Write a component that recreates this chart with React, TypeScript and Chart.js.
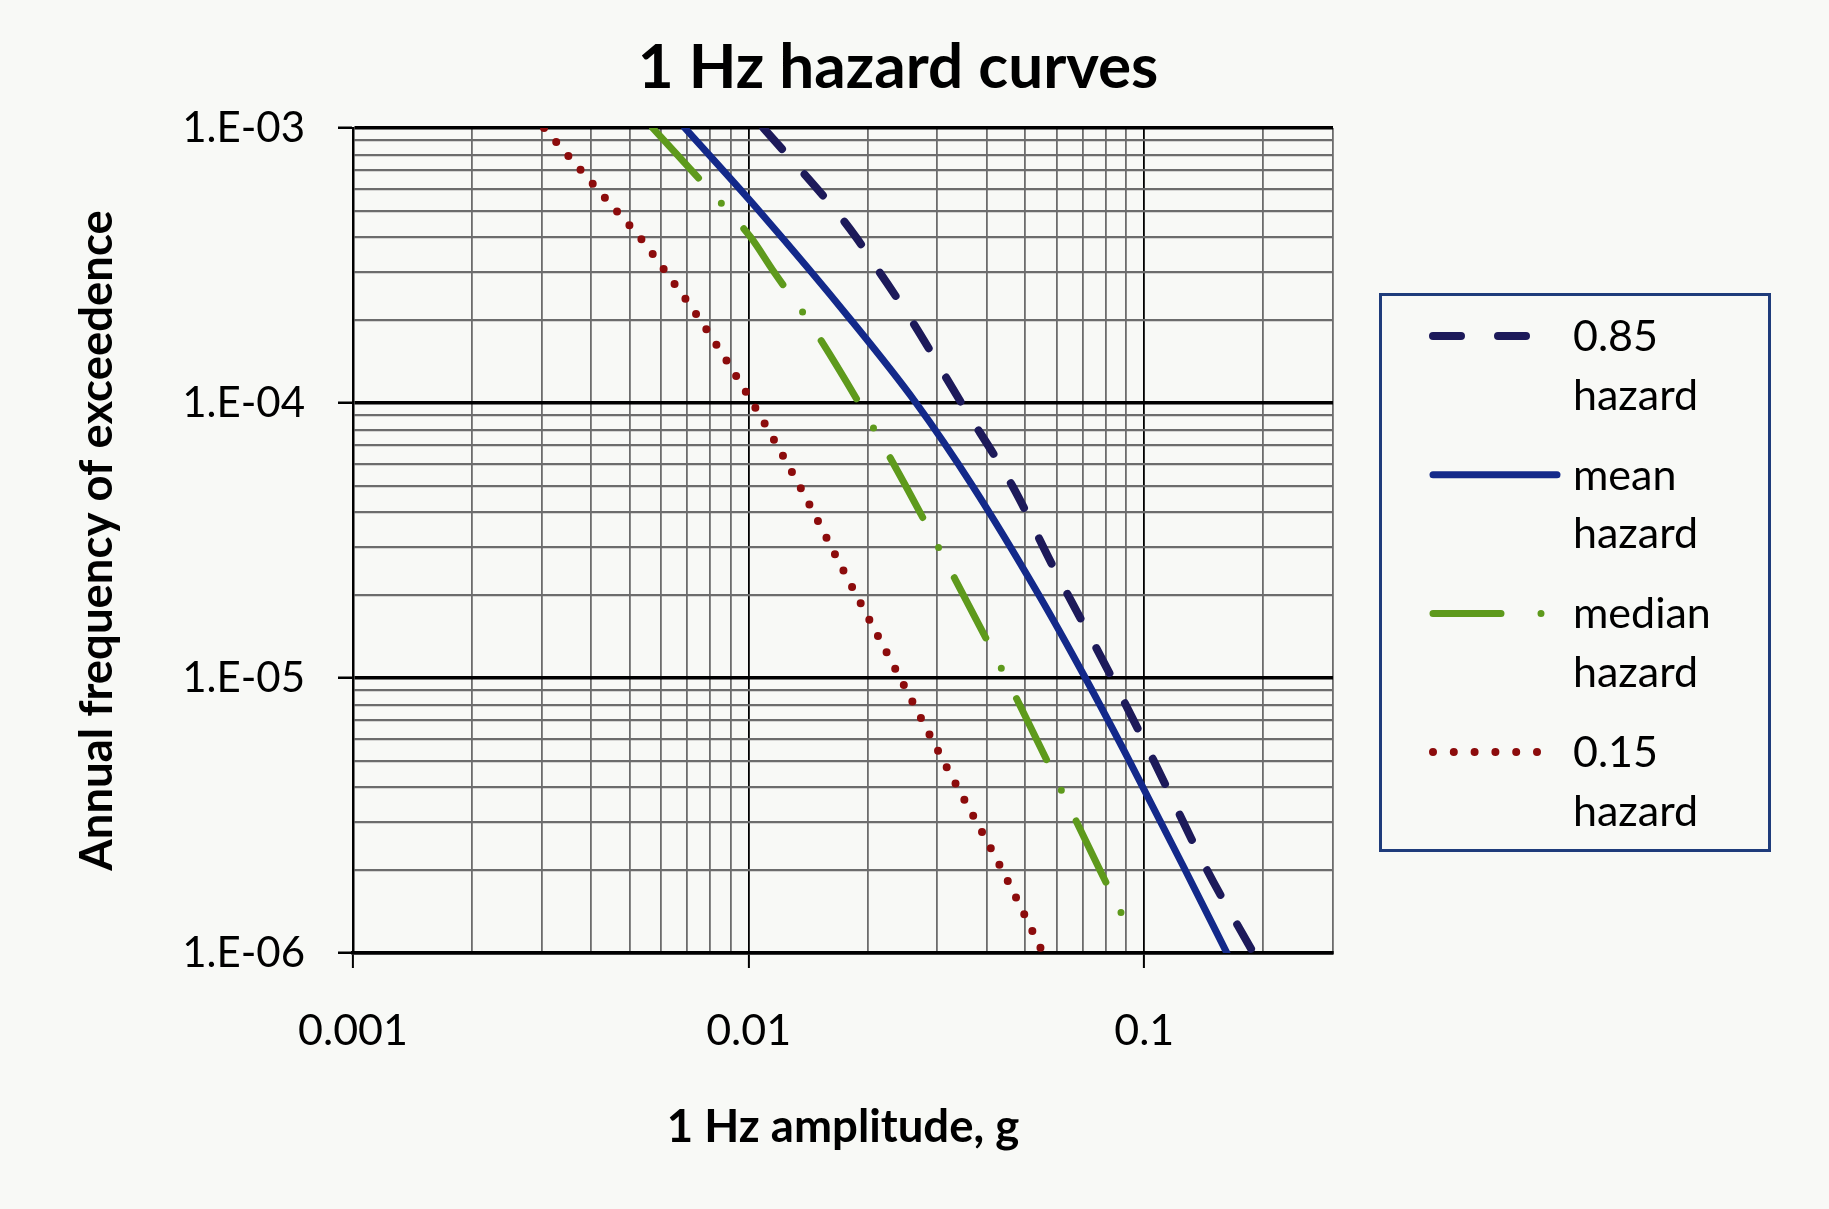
import React, { useEffect, useRef } from 'react';
import { Chart, registerables } from 'chart.js';

Chart.register(...registerables);

// ---------- Text ----------
const CHART_TITLE = '1 Hz hazard curves';
const X_TITLE = '1 Hz amplitude, g';
const Y_TITLE = 'Annual frequency of exceedence';

// ---------- Axis ticks ----------
const X_TICKS = [
  0.001, 0.002, 0.003, 0.004, 0.005, 0.006, 0.007, 0.008, 0.009,
  0.01, 0.02, 0.03, 0.04, 0.05, 0.06, 0.07, 0.08, 0.09,
  0.1, 0.2, 0.3,
];
const X_LABEL_VALUES = [0.001, 0.01, 0.1];
const X_LABEL_TEXT = ['0.001', '0.01', '0.1'];

const Y_TICKS = [
  1e-6, 2e-6, 3e-6, 4e-6, 5e-6, 6e-6, 7e-6, 8e-6, 9e-6,
  1e-5, 2e-5, 3e-5, 4e-5, 5e-5, 6e-5, 7e-5, 8e-5, 9e-5,
  1e-4, 2e-4, 3e-4, 4e-4, 5e-4, 6e-4, 7e-4, 8e-4, 9e-4,
  1e-3,
];
const Y_LABEL_VALUES = [1e-6, 1e-5, 1e-4, 1e-3];
const Y_LABEL_TEXT = ['1.E-06', '1.E-05', '1.E-04', '1.E-03'];

// ---------- Series ----------
const SERIES_LABELS = ['0.85 hazard', 'mean hazard', 'median hazard', '0.15 hazard'];

const P85_X = [0.0109, 0.0166, 0.0187, 0.0214, 0.0258, 0.0345, 0.0464, 0.0592, 0.0829, 0.1057, 0.1442, 0.1888];
const P85_Y = [1e-3, 5e-4, 4e-4, 3e-4, 2e-4, 1e-4, 5e-5, 2.5e-5, 1e-5, 5e-6, 2e-6, 1e-6];

const MEAN_X = [0.0069, 0.01062, 0.01816, 0.0265, 0.0368, 0.0542, 0.071, 0.0917, 0.127, 0.1618];
const MEAN_Y = [1e-3, 5e-4, 2e-4, 1e-4, 5e-5, 2e-5, 1e-5, 5e-6, 2e-6, 1e-6];

const MEDIAN_X = [0.00572, 0.00887, 0.01013, 0.01158, 0.01413, 0.01901, 0.02494, 0.0322, 0.0448, 0.0568, 0.0773, 0.0904];
const MEDIAN_Y = [1e-3, 5e-4, 4e-4, 3e-4, 2e-4, 1e-4, 5e-5, 2.5e-5, 1e-5, 5e-6, 2e-6, 1.27e-6];

const P15_X = [0.00304, 0.00463, 0.00531, 0.00617, 0.00755, 0.01023, 0.01344, 0.01726, 0.02415, 0.03105, 0.04377, 0.0555];
const P15_Y = [1e-3, 5e-4, 4e-4, 3e-4, 2e-4, 1e-4, 5e-5, 2.5e-5, 1e-5, 5e-6, 2e-6, 1e-6];

// ---------- Helpers ----------
const near = (a: number, b: number) => Math.abs(a - b) <= Math.abs(b) * 1e-6;
const isDecade = (v: any) => {
  if (typeof v !== 'number' || v <= 0) return false;
  const l = Math.log10(v);
  return Math.abs(l - Math.round(l)) < 1e-6;
};
const pairs = (xs: number[], ys: number[]) => xs.map((x, i) => ({ x, y: ys[i] }));
const labelFor = (v: number, vals: number[], txt: string[]) => {
  const i = vals.findIndex((t) => near(v, t));
  return i >= 0 ? txt[i] : '';
};

const BG = '#f8f9f6';
const FONT = 'Lato';
const MINOR = '#6c6c6c';

// legend sample dash patterns (per dataset)
const LEGEND_DASH = [[28, 37], [], [68, 40, 0, 200], [0, 20.8]];

const bgPlugin = {
  id: 'bg',
  beforeDraw(chart: any) {
    const { ctx, width, height } = chart;
    ctx.save();
    ctx.fillStyle = BG;
    ctx.fillRect(0, 0, width, height);
    ctx.restore();
  },
};

const overlayPlugin = {
  id: 'overlay',
  afterDraw(chart: any) {
    const ctx = chart.ctx as CanvasRenderingContext2D;
    ctx.save();
    // title
    ctx.fillStyle = '#000';
    ctx.font = `bold 62px ${FONT}`;
    ctx.textAlign = 'center';
    ctx.textBaseline = 'alphabetic';
    ctx.fillText(CHART_TITLE, 898, 88);

    // legend frame
    ctx.strokeStyle = '#1f3c7b';
    ctx.lineWidth = 3;
    ctx.strokeRect(1380.5, 294.5, 389, 556);

    chart.data.datasets.forEach((ds: any, i: number) => {
      const cy = 336 + i * 138.7;
      ctx.save();
      ctx.strokeStyle = ds.borderColor;
      ctx.lineWidth = ds.borderWidth;
      ctx.lineCap = ds.borderCapStyle || 'butt';
      ctx.setLineDash(LEGEND_DASH[i]);
      ctx.beginPath();
      const x0 = 1433;
      const x1 = 1557;
      ctx.moveTo(x0, cy);
      ctx.lineTo(x1, cy);
      ctx.stroke();
      ctx.restore();

      ctx.fillStyle = '#000';
      ctx.font = `43px ${FONT}`;
      ctx.textAlign = 'left';
      ctx.textBaseline = 'alphabetic';
      String(ds.label)
        .split(' ')
        .forEach((t: string, j: number) => ctx.fillText(t, 1573, cy + 15 + j * 58.5));
    });
    ctx.restore();
  },
};

export default function App() {
  const canvasRef = useRef<HTMLCanvasElement | null>(null);

  useEffect(() => {
    let chart: Chart | null = null;
    let cancelled = false;

    const build = () => {
      if (cancelled || !canvasRef.current) return;
      chart = new Chart(canvasRef.current, {
        type: 'line',
        data: {
          datasets: [
            {
              label: SERIES_LABELS[0],
              data: pairs(P85_X, P85_Y),
              borderColor: '#1d1a5a',
              borderWidth: 8,
              borderDash: [28, 34],
              borderCapStyle: 'round',
              pointRadius: 0,
              cubicInterpolationMode: 'monotone',
              fill: false,
            },
            {
              label: SERIES_LABELS[1],
              data: pairs(MEAN_X, MEAN_Y),
              borderColor: '#13298a',
              borderWidth: 7,
              borderCapStyle: 'round',
              pointRadius: 0,
              cubicInterpolationMode: 'monotone',
              fill: false,
            },
            {
              label: SERIES_LABELS[2],
              data: pairs(MEDIAN_X, MEDIAN_Y),
              borderColor: '#5e9a1c',
              borderWidth: 7,
              borderDash: [68, 34, 0, 34],
              borderCapStyle: 'round',
              pointRadius: 0,
              cubicInterpolationMode: 'monotone',
              fill: false,
            },
            {
              label: SERIES_LABELS[3],
              data: pairs(P15_X, P15_Y),
              borderColor: '#8c0c0c',
              borderWidth: 8,
              borderDash: [0, 18.5],
              borderCapStyle: 'round',
              pointRadius: 0,
              cubicInterpolationMode: 'monotone',
              fill: false,
            },
          ],
        } as any,
        options: {
          animation: false,
          responsive: false,
          devicePixelRatio: 1,
          layout: { padding: { top: 128, right: 496, left: 0, bottom: 0 } },
          plugins: {
            legend: { display: false },
            title: { display: false },
            tooltip: { enabled: false },
          },
          scales: {
            x: {
              type: 'logarithmic',
              min: 0.001,
              max: 0.3,
              afterBuildTicks: (s: any) => {
                s.ticks = X_TICKS.map((v) => ({ value: v }));
              },
              afterFit: (s: any) => {
                s.height = 256;
              },
              ticks: {
                autoSkip: false,
                maxRotation: 0,
                minRotation: 0,
                padding: 37,
                color: '#000',
                font: { family: FONT, size: 43 },
                callback: (v: any) => labelFor(Number(v), X_LABEL_VALUES, X_LABEL_TEXT),
              },
              grid: {
                color: (c: any) => (isDecade(c.tick?.value) ? '#000' : MINOR),
                lineWidth: (c: any) => (isDecade(c.tick?.value) ? 1.8 : 1.8),
                tickColor: (c: any) => (isDecade(c.tick?.value) ? '#000' : 'rgba(0,0,0,0)'),
                tickLength: 15,
                tickWidth: 2,
              },
              border: { display: true, color: '#000', width: 3.5 },
              title: {
                display: true,
                text: X_TITLE,
                color: '#000',
                font: { family: FONT, size: 45.5, weight: 'bold' },
                padding: { top: 0, bottom: 54.7 },
              },
            },
            y: {
              type: 'logarithmic',
              min: 1e-6,
              max: 1e-3,
              afterBuildTicks: (s: any) => {
                s.ticks = Y_TICKS.map((v) => ({ value: v }));
              },
              afterFit: (s: any) => {
                s.width = 353;
              },
              ticks: {
                autoSkip: false,
                padding: 33,
                color: '#000',
                font: { family: FONT, size: 42 },
                callback: (v: any) => labelFor(Number(v), Y_LABEL_VALUES, Y_LABEL_TEXT),
              },
              grid: {
                color: (c: any) => (isDecade(c.tick?.value) ? '#000' : MINOR),
                lineWidth: (c: any) => (isDecade(c.tick?.value) ? 3.5 : 2.2),
                tickColor: (c: any) => (isDecade(c.tick?.value) ? '#000' : 'rgba(0,0,0,0)'),
                tickLength: 15,
                tickWidth: 2.5,
              },
              border: { display: true, color: '#000', width: 2.5 },
              title: {
                display: true,
                text: Y_TITLE,
                color: '#000',
                font: { family: FONT, size: 45.5, weight: 'bold' },
                padding: { top: 69.7, bottom: 0 },
              },
            },
          },
        } as any,
        plugins: [bgPlugin, overlayPlugin],
      });
    };

    const fontsReady = (document as any).fonts
      ? Promise.all([
          (document as any).fonts.load(`bold 60px ${FONT}`),
          (document as any).fonts.load(`42px ${FONT}`),
        ]).catch(() => null)
      : Promise.resolve(null);
    fontsReady.then(build);

    return () => {
      cancelled = true;
      if (chart) chart.destroy();
    };
  }, []);

  return (
    <div style={{ position: 'absolute', left: 0, top: 0, width: 1829, height: 1209, background: BG }}>
      <canvas ref={canvasRef} width={1829} height={1209} style={{ width: 1829, height: 1209, display: 'block' }} />
    </div>
  );
}
